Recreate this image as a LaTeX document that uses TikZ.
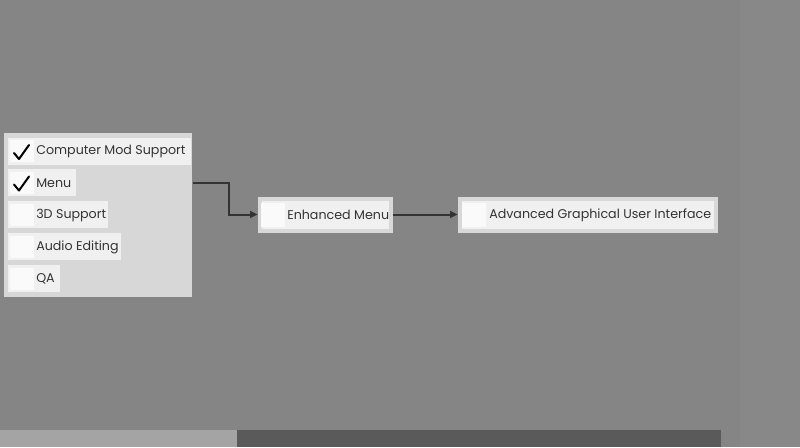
\documentclass[tikz,border=0pt]{standalone}
\usepackage{fontspec}
\setmainfont{Poppins}
\usetikzlibrary{arrows.meta}
\definecolor{bg}{HTML}{858585}
\definecolor{bgr}{HTML}{888888}
\definecolor{panelc}{HTML}{D6D7D6}
\definecolor{rowc}{HTML}{F0F0F0}
\definecolor{cbc}{HTML}{FAFAFA}
\definecolor{boxborder}{HTML}{D8D8D8}
\definecolor{ink}{HTML}{333333}
\definecolor{barlight}{HTML}{A4A4A4}
\definecolor{bardark}{HTML}{5A5A5A}
\tikzset{
  rowbox/.style={fill=rowc, draw=none, anchor=west, minimum height=27*0.75pt, inner sep=0pt},
  cb/.style={fill=cbc, draw=none, minimum width=24*0.75pt, minimum height=22*0.75pt, inner sep=0pt},
  txt/.style={anchor=west, text=ink, font=\fontsize{9.5pt}{11pt}\selectfont, inner sep=0pt},
  bigbox/.style={fill=rowc, draw=boxborder, line width=3pt, anchor=west, minimum height=32*0.75pt, inner sep=0pt},
  arr/.style={draw=ink, line width=1.5pt, -{Triangle[length=5.5pt,width=5pt]}},
  tick/.style={draw=black, line width=1.5pt, line cap=round, line join=round}
}
\begin{document}
\begin{tikzpicture}[x=0.75pt,y=-0.75pt]
\useasboundingbox (0,0) rectangle (800,447);
\fill[bg] (0,0) rectangle (800,447);
\fill[bgr] (740,0) rectangle (800,447);
\fill[barlight] (0,430) rectangle (237,447);
\fill[bardark] (237,430) rectangle (721,447);
% panel
\node[fill=panelc, draw=none, inner sep=0pt, minimum width=188*0.75pt, minimum height=164*0.75pt, anchor=north west] (panel) at (4,133) {};
% rows
\node[rowbox, minimum width=183*0.75pt] (r1) at (8,151) {};
\node[rowbox, minimum width=68*0.75pt] (r2) at (8,182.5) {};
\node[rowbox, minimum width=100*0.75pt] (r3) at (8,214.5) {};
\node[rowbox, minimum width=113*0.75pt] (r4) at (8,246.5) {};
\node[rowbox, minimum width=52*0.75pt] (r5) at (8,278.5) {};
\node[cb] (c1) at (22,151) {};
\node[cb] (c2) at (22,182.5) {};
\node[cb] (c3) at (22,214.5) {};
\node[cb] (c4) at (22,246.5) {};
\node[cb] (c5) at (22,278.5) {};
\draw[tick] (14,153) -- (19,159) -- (29,145);
\draw[tick] (14,184.5) -- (19,190.5) -- (29,176.5);
\node[txt] (t1) at (36,151.5) {Computer Mod Support};
\node[txt] (t2) at (36,183) {Menu};
\node[txt] (t3) at (36,215) {3D Support};
\node[txt] (t4) at (36,247) {Audio Editing};
\node[txt] (t5) at (36,279) {QA};
% Enhanced Menu
\node[bigbox, minimum width=131*0.75pt] (em) at (257.5,214.5) {};
\node[cb, minimum width=24*0.75pt, minimum height=24*0.75pt] (emc) at (273,215) {};
\node[txt] (emt) at (287,215) {Enhanced Menu};
% Advanced GUI
\node[bigbox, minimum width=256*0.75pt] (ag) at (457.5,214.5) {};
\node[cb, minimum width=24*0.75pt, minimum height=24*0.75pt] (agc) at (473.5,215) {};
\node[txt] (agt) at (489,215) {Advanced Graphical User Interface};
% connectors
\draw[arr] (panel.east |- r2) -- (229,182.5) |- (em.west);
\draw[arr] (em.east) -- (ag.west);
\end{tikzpicture}
\end{document}
